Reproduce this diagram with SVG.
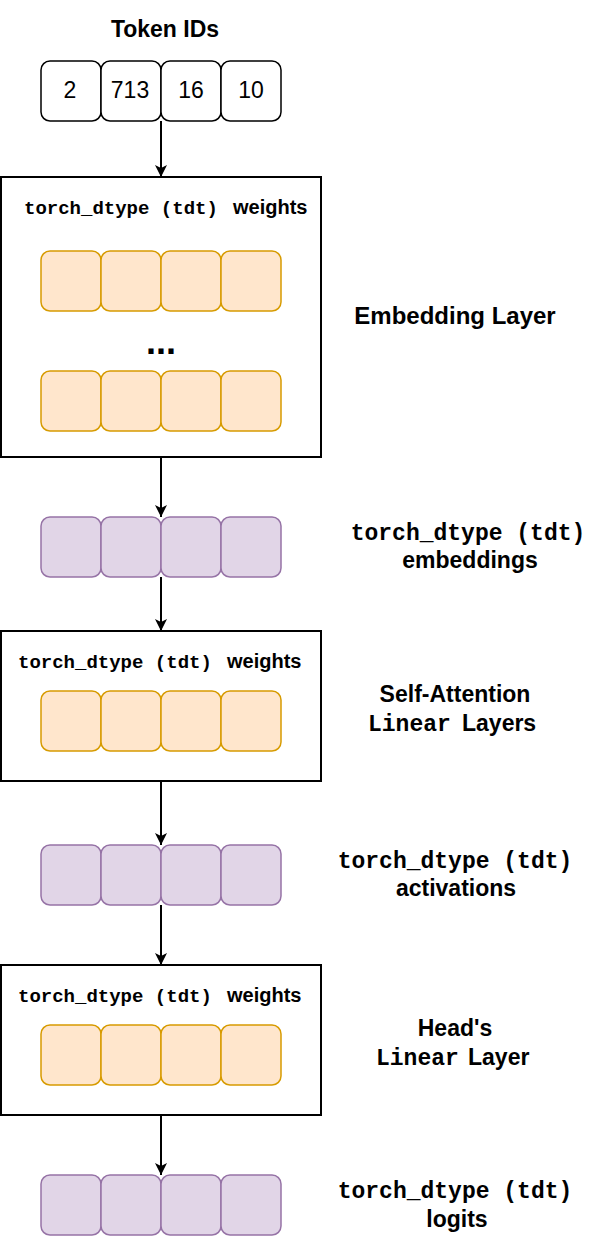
<svg xmlns="http://www.w3.org/2000/svg" width="602" height="1236" viewBox="0 0 602 1236">
<style>
.bg{fill:#ffffff}
.box{fill:#ffffff;stroke:#000000;stroke-width:2}
.tok{fill:#ffffff;stroke:#000000;stroke-width:1.5}
.w{fill:#ffe6cc;stroke:#d79b00;stroke-width:1.5}
.a{fill:#e1d5e7;stroke:#9673a6;stroke-width:1.5}
.sans{font-family:"Liberation Sans",Arial,sans-serif;font-weight:bold;fill:#000}
.lbl{font-size:23px}
.num{font-family:"Liberation Sans",Arial,sans-serif;font-size:23px;fill:#000;text-anchor:middle}
.mono{font-family:"Liberation Mono","Courier New",monospace;font-weight:bold;fill:#000}
.mid{text-anchor:middle}
.conn{stroke:#000;stroke-width:2;fill:none;marker-end:url(#arr)}
</style>
<defs>
<marker id="arr" markerUnits="userSpaceOnUse" viewBox="0 0 12 12" refX="12" refY="6" markerWidth="12" markerHeight="12" orient="auto">
<path d="M0,0 L12,6 L0,12 L3,6 z" fill="#000"/>
</marker>
</defs>
<rect class="bg" x="0" y="0" width="602" height="1236"/>

<g id="token-ids">
<text class="sans lbl mid" x="165" y="37">Token IDs</text>
<rect class="tok" x="41" y="61" width="60" height="60" rx="9"/>
<rect class="tok" x="101" y="61" width="60" height="60" rx="9"/>
<rect class="tok" x="161" y="61" width="60" height="60" rx="9"/>
<rect class="tok" x="221" y="61" width="60" height="60" rx="9"/>
<text class="num" x="70" y="98">2</text>
<text class="num" x="130" y="98">713</text>
<text class="num" x="191" y="98">16</text>
<text class="num" x="251" y="98">10</text>
</g>

<g id="embedding-layer">
<rect class="box" x="1" y="177" width="320" height="280"/>
<text class="mono" x="24" y="214" font-size="19">torch_dtype (tdt)</text>
<text class="sans" x="233" y="214" font-size="20">weights</text>
<rect class="w" x="41" y="251" width="60" height="60" rx="9"/>
<rect class="w" x="101" y="251" width="60" height="60" rx="9"/>
<rect class="w" x="161" y="251" width="60" height="60" rx="9"/>
<rect class="w" x="221" y="251" width="60" height="60" rx="9"/>
<text class="sans mid" x="161" y="354" font-size="36">...</text>
<rect class="w" x="41" y="371" width="60" height="60" rx="9"/>
<rect class="w" x="101" y="371" width="60" height="60" rx="9"/>
<rect class="w" x="161" y="371" width="60" height="60" rx="9"/>
<rect class="w" x="221" y="371" width="60" height="60" rx="9"/>
</g>
<g id="label-embedding-layer">
<text class="sans mid" x="455" y="324" font-size="24">Embedding Layer</text>
</g>

<g id="embeddings">
<rect class="a" x="41" y="517" width="60" height="60" rx="9"/>
<rect class="a" x="101" y="517" width="60" height="60" rx="9"/>
<rect class="a" x="161" y="517" width="60" height="60" rx="9"/>
<rect class="a" x="221" y="517" width="60" height="60" rx="9"/>
</g>
<g id="label-embeddings">
<text class="mono mid" x="468" y="540" font-size="23">torch_dtype (tdt)</text>
<text class="sans lbl mid" x="470" y="568">embeddings</text>
</g>

<g id="self-attention">
<rect class="box" x="1" y="631" width="320" height="150"/>
<text class="mono" x="18" y="668" font-size="19">torch_dtype (tdt)</text>
<text class="sans" x="227" y="668" font-size="20">weights</text>
<rect class="w" x="41" y="691" width="60" height="60" rx="9"/>
<rect class="w" x="101" y="691" width="60" height="60" rx="9"/>
<rect class="w" x="161" y="691" width="60" height="60" rx="9"/>
<rect class="w" x="221" y="691" width="60" height="60" rx="9"/>
</g>
<g id="label-self-attention">
<text class="sans lbl mid" x="455" y="702">Self-Attention</text>
<text class="mono" x="368" y="731" font-size="23">Linear</text>
<text class="sans lbl" x="462" y="731">Layers</text>
</g>

<g id="activations">
<rect class="a" x="41" y="845" width="60" height="60" rx="9"/>
<rect class="a" x="101" y="845" width="60" height="60" rx="9"/>
<rect class="a" x="161" y="845" width="60" height="60" rx="9"/>
<rect class="a" x="221" y="845" width="60" height="60" rx="9"/>
</g>
<g id="label-activations">
<text class="mono mid" x="455" y="868" font-size="23">torch_dtype (tdt)</text>
<text class="sans lbl mid" x="456" y="896">activations</text>
</g>

<g id="head">
<rect class="box" x="1" y="965" width="320" height="150"/>
<text class="mono" x="18" y="1002" font-size="19">torch_dtype (tdt)</text>
<text class="sans" x="227" y="1002" font-size="20">weights</text>
<rect class="w" x="41" y="1025" width="60" height="60" rx="9"/>
<rect class="w" x="101" y="1025" width="60" height="60" rx="9"/>
<rect class="w" x="161" y="1025" width="60" height="60" rx="9"/>
<rect class="w" x="221" y="1025" width="60" height="60" rx="9"/>
</g>
<g id="label-head">
<text class="sans lbl mid" x="455" y="1036">Head's</text>
<text class="mono" x="376" y="1065" font-size="23">Linear</text>
<text class="sans lbl" x="468" y="1065">Layer</text>
</g>

<g id="logits">
<rect class="a" x="41" y="1175" width="60" height="60" rx="9"/>
<rect class="a" x="101" y="1175" width="60" height="60" rx="9"/>
<rect class="a" x="161" y="1175" width="60" height="60" rx="9"/>
<rect class="a" x="221" y="1175" width="60" height="60" rx="9"/>
</g>
<g id="label-logits">
<text class="mono mid" x="455" y="1198" font-size="23">torch_dtype (tdt)</text>
<text class="sans lbl mid" x="457" y="1227">logits</text>
</g>

<g id="connectors">
<line class="conn" x1="161" y1="121" x2="161" y2="177"/>
<line class="conn" x1="161" y1="457" x2="161" y2="517"/>
<line class="conn" x1="161" y1="577" x2="161" y2="631"/>
<line class="conn" x1="161" y1="781" x2="161" y2="845"/>
<line class="conn" x1="161" y1="905" x2="161" y2="965"/>
<line class="conn" x1="161" y1="1115" x2="161" y2="1175"/>
</g>
</svg>
